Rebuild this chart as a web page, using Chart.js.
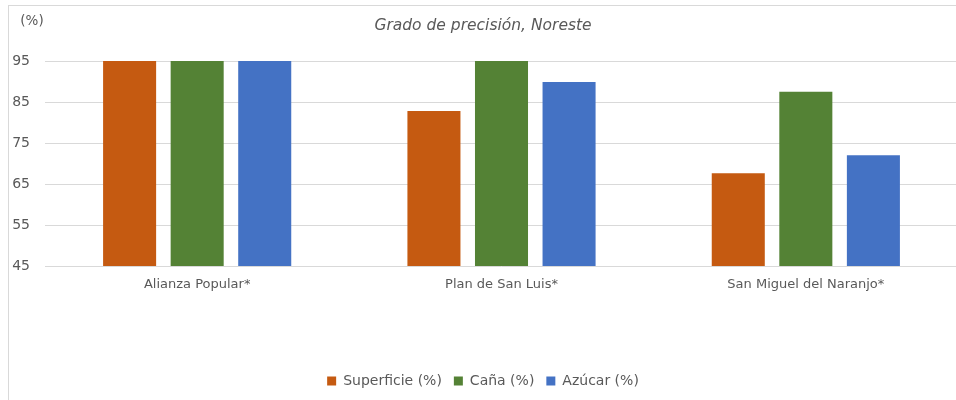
<!DOCTYPE html>
<html>
<head>
<meta charset="utf-8">
<script src="https://cdn.jsdelivr.net/npm/chart.js@4.4.1/dist/chart.umd.min.js"></script>
<style>
  html, body { margin: 0; padding: 0; overflow: hidden; background: #fff; width: 956px; height: 400px; }
  #marco { position: absolute; left: 8px; top: 5px; width: 2000px; height: 1000px;
           border-left: 1px solid #d9d9d9; border-top: 1px solid #d9d9d9; }
  #grafico { position: absolute; left: 8px; top: 0; }
</style>
</head>
<body>
<div id="marco"></div>
<canvas id="grafico" width="950" height="400"></canvas>
<script>
// datos
var ingenios = ['Alianza Popular*', 'Plan de San Luis*', 'San Miguel del Naranjo*'];
var superficie = [95, 82.8, 67.6];
var cana = [95, 95, 87.5];
var azucar = [95, 89.9, 72.0];
var ejeMin = 45, ejeMax = 95, ejePaso = 10;

var gris = '#595959';
var fuente = "'DejaVu Sans', sans-serif";

// etiqueta (%) arriba del eje
var etiquetaPct = {
  id: 'etiquetaPct',
  afterDraw: function (chart) {
    var ctx = chart.ctx;
    ctx.save();
    ctx.font = '13.5px ' + fuente;
    ctx.fillStyle = gris;
    ctx.textAlign = 'center';
    ctx.textBaseline = 'middle';
    ctx.fillText('(%)', 24, 21);
    ctx.restore();
  }
};

window.GraficoPrecision = new Chart(document.getElementById('grafico'), {
  type: 'bar',
  data: {
    labels: ingenios,
    datasets: [
      { label: 'Superficie (%)', data: superficie, backgroundColor: '#C55A11' },
      { label: 'Caña (%)', data: cana, backgroundColor: '#548235' },
      { label: 'Azúcar (%)', data: azucar, backgroundColor: '#4472C4' }
    ]
  },
  options: {
    responsive: false,
    animation: false,
    categoryPercentage: 0.666,
    barPercentage: 0.785,
    layout: { padding: { left: 0, right: 0, top: 0, bottom: 2 } },
    plugins: {
      title: {
        display: true,
        text: 'Grado de precisión, Noreste',
        color: gris,
        font: { family: fuente, size: 15.5, style: 'italic', weight: 'normal' },
        padding: { top: 17, bottom: 25.4 }
      },
      legend: {
        position: 'bottom',
        labels: {
          color: gris,
          font: { family: fuente, size: 14 },
          boxWidth: 9,
          boxHeight: 9,
          padding: 12
        }
      },
      tooltip: { enabled: false }
    },
    scales: {
      x: {
        grid: { display: false, drawTicks: false },
        border: { display: false },
        ticks: { color: gris, font: { family: fuente, size: 13 }, padding: 11 },
        afterFit: function (scale) { scale.height = 96; }
      },
      y: {
        min: ejeMin,
        max: ejeMax,
        grid: { color: '#d9d9d9', drawTicks: false },
        border: { display: false },
        ticks: { stepSize: ejePaso, color: gris, font: { family: fuente, size: 14 }, padding: 15 },
        afterFit: function (scale) { scale.width = 37; }
      }
    }
  },
  plugins: [etiquetaPct]
});
</script>
</body>
</html>
